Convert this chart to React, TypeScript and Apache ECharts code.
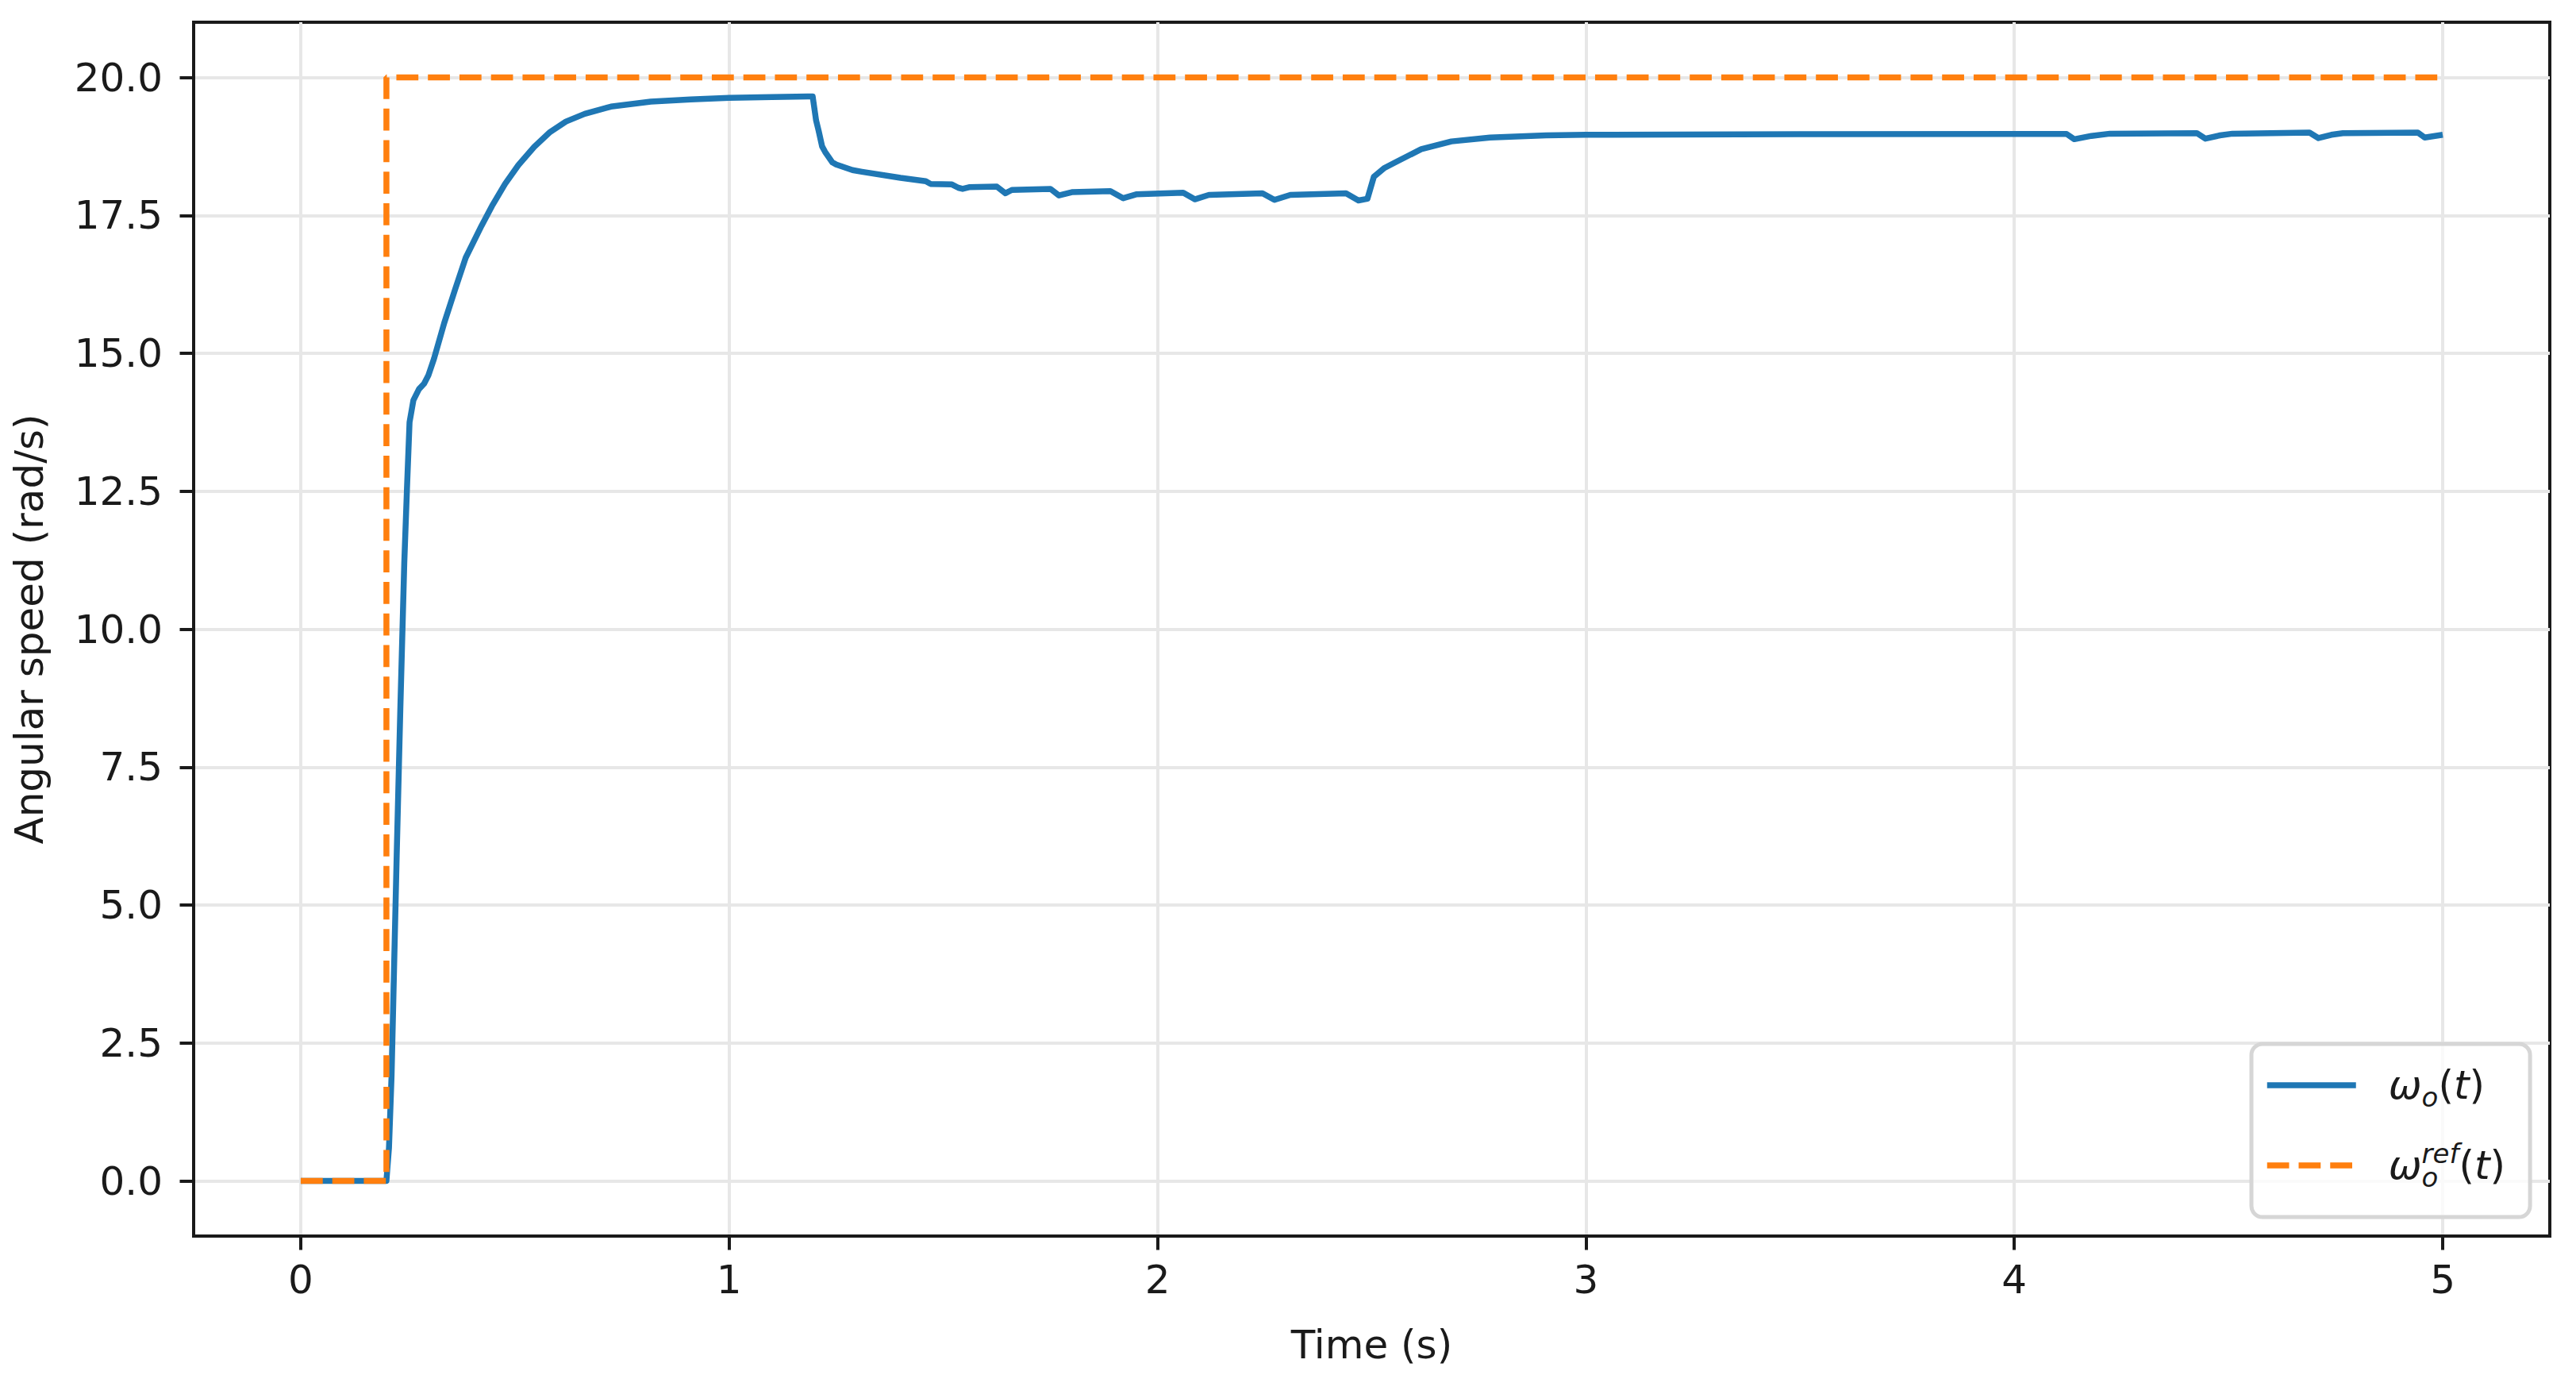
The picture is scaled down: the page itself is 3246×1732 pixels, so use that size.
import React, { useEffect, useRef } from "react";
import * as echarts from "echarts";

// Measured output speed ω_o(t)
const blueTime = [
  0, 0.2, 0.206, 0.212, 0.224, 0.2325, 0.2417, 0.248, 0.254, 0.263, 0.276, 0.288, 0.298, 0.311, 0.335,
  0.36, 0.385, 0.422, 0.4465, 0.477, 0.508, 0.545, 0.582, 0.619, 0.663, 0.724, 0.817, 0.91, 1.0, 1.1,
  1.195, 1.203, 1.209, 1.217, 1.224, 1.241, 1.25, 1.288, 1.31, 1.4, 1.459, 1.47, 1.52, 1.535, 1.545,
  1.56, 1.625, 1.645, 1.66, 1.75, 1.77, 1.8, 1.89, 1.92, 1.95, 2.06, 2.087, 2.12, 2.245, 2.273,
  2.31, 2.44, 2.469, 2.49, 2.505, 2.53, 2.555, 2.6156, 2.686, 2.776, 2.907, 3.0, 3.5, 4.122, 4.14,
  4.18, 4.223, 4.426, 4.446, 4.48, 4.509, 4.689, 4.71, 4.74, 4.767, 4.942, 4.958, 5.0,
];
const blueSpeed = [
  0, 0, 0.6, 1.9, 5.9, 8.56, 11.2, 12.55, 13.75, 14.15, 14.35, 14.45, 14.6, 14.9, 15.55,
  16.15, 16.73, 17.31, 17.67, 18.07, 18.41, 18.74, 19.01, 19.2, 19.34, 19.47, 19.56, 19.6, 19.63, 19.645,
  19.655, 19.22, 19.03, 18.75, 18.65, 18.46, 18.42, 18.32, 18.29, 18.18, 18.12, 18.07, 18.06, 18.0, 17.98,
  18.01, 18.02, 17.9, 17.96, 17.98, 17.86, 17.92, 17.94, 17.81, 17.88, 17.91, 17.79, 17.87, 17.9, 17.78,
  17.87, 17.9, 17.77, 17.8, 18.2, 18.36, 18.46, 18.7, 18.84, 18.91, 18.95, 18.96, 18.97, 18.975, 18.88,
  18.94, 18.98, 18.99, 18.89, 18.95, 18.98, 19.0, 18.9, 18.96, 18.99, 19.0, 18.91, 18.96,
];

// Reference speed ω_o^ref(t)
const refTime = [0, 0.2, 0.2, 5];
const refSpeed = [0, 0, 20, 20];

const xTicks = [0, 1, 2, 3, 4, 5];
const yTicks = [0, 2.5, 5, 7.5, 10, 12.5, 15, 17.5, 20];

const seriesNames = ["ωo(t)", "ωoref(t)"];
const xTitle = "Time (s)";
const yTitle = "Angular speed (rad/s)";

const FONT = "DejaVu Sans";
const INK = "#1a1a1a";

export default function App() {
  const ref = useRef<HTMLDivElement>(null);

  useEffect(() => {
    const chart = echarts.init(ref.current!, null, { renderer: "svg" });
    const blueData = blueTime.map((t, i) => [t, blueSpeed[i]]);
    const refData = refTime.map((t, i) => [t, refSpeed[i]]);

    chart.setOption({
      animation: false,
      backgroundColor: "#ffffff",
      grid: {
        left: 244,
        right: 33,
        top: 28,
        bottom: 175,
        show: true,
        borderColor: INK,
        borderWidth: 4,
        backgroundColor: "transparent",
      },
      xAxis: {
        type: "value",
        min: -0.25,
        max: 5.25,
        name: xTitle,
        nameLocation: "middle",
        nameGap: 112,
        nameTextStyle: { fontFamily: FONT, fontSize: 50, color: INK },
        axisLine: { show: true, onZero: false, lineStyle: { color: INK, width: 4 } },
        axisTick: {
          show: true,
          inside: false,
          customValues: xTicks,
          length: 17.5,
          lineStyle: { color: INK, width: 4 },
        },
        axisLabel: {
          customValues: xTicks,
          margin: 30,
          fontFamily: FONT,
          fontSize: 50,
          color: INK,
          formatter: (v: number) => String(v),
        },
        splitLine: { show: true, lineStyle: { color: "#e7e7e7", width: 4 } },
      },
      yAxis: {
        type: "value",
        min: -1,
        max: 21,
        name: yTitle,
        nameLocation: "middle",
        nameGap: 182,
        nameTextStyle: { fontFamily: FONT, fontSize: 50, color: INK },
        axisLine: { show: true, onZero: false, lineStyle: { color: INK, width: 4 } },
        axisTick: {
          show: true,
          inside: false,
          customValues: yTicks,
          length: 17.5,
          lineStyle: { color: INK, width: 4 },
        },
        axisLabel: {
          customValues: yTicks,
          margin: 39,
          fontFamily: FONT,
          fontSize: 50,
          color: INK,
          formatter: (v: number) => v.toFixed(1),
        },
        splitLine: { show: true, lineStyle: { color: "#e7e7e7", width: 4 } },
      },
      legend: {
        orient: "vertical",
        left: 2837,
        top: 1315,
        padding: [27, 31, 33, 16],
        itemGap: 37,
        itemWidth: 112,
        itemHeight: 1,
        itemStyle: { color: "rgba(0,0,0,0)", borderWidth: 0 },
        lineStyle: { width: 7.5 },
        backgroundColor: "rgba(255,255,255,0.8)",
        borderColor: "#d6d6d6",
        borderWidth: 5,
        borderRadius: 14,
        data: seriesNames,
        formatter: (name: string) =>
          name === seriesNames[0]
            ? "{i|ω}{sub|o}{n|(}{i|t}{n|)}"
            : "{i|ω}{sub0|o}{sup|ref}{n|(}{i|t}{n|)}",
        textStyle: {
          padding: [0, 0, 0, 36],
          fontFamily: FONT,
          fontSize: 50,
          color: INK,
          rich: {
            i: { fontFamily: FONT, fontStyle: "italic", fontSize: 50, lineHeight: 64, color: INK },
            n: { fontFamily: FONT, fontSize: 50, lineHeight: 64, color: INK },
            sub: {
              fontFamily: FONT,
              fontStyle: "italic",
              fontSize: 34,
              lineHeight: 38,
              verticalAlign: "bottom",
              color: INK,
            },
            sub0: {
              fontFamily: FONT,
              fontStyle: "italic",
              fontSize: 34,
              lineHeight: 38,
              width: 0,
              verticalAlign: "bottom",
              color: INK,
            },
            sup: {
              fontFamily: FONT,
              fontStyle: "italic",
              fontSize: 34,
              lineHeight: 21,
              verticalAlign: "top",
              color: INK,
            },
          },
        },
      },
      series: [
        {
          name: seriesNames[0],
          type: "line",
          data: blueData,
          showSymbol: false,
          symbol: "none",
          smooth: false,
          lineStyle: { color: "#1f77b4", width: 7.5, join: "round" },
          itemStyle: { color: "#1f77b4" },
          z: 3,
        },
        {
          name: seriesNames[1],
          type: "line",
          data: refData,
          showSymbol: false,
          symbol: "none",
          lineStyle: { color: "#ff7f0e", width: 7.5, type: [27.75, 12], cap: "butt" },
          itemStyle: { color: "#ff7f0e" },
          z: 4,
        },
      ],
    });

    return () => chart.dispose();
  }, []);

  return (
    <div
      ref={ref}
      style={{ position: "fixed", left: 0, top: 0, width: 3246, height: 1732, background: "#fff" }}
    />
  );
}
